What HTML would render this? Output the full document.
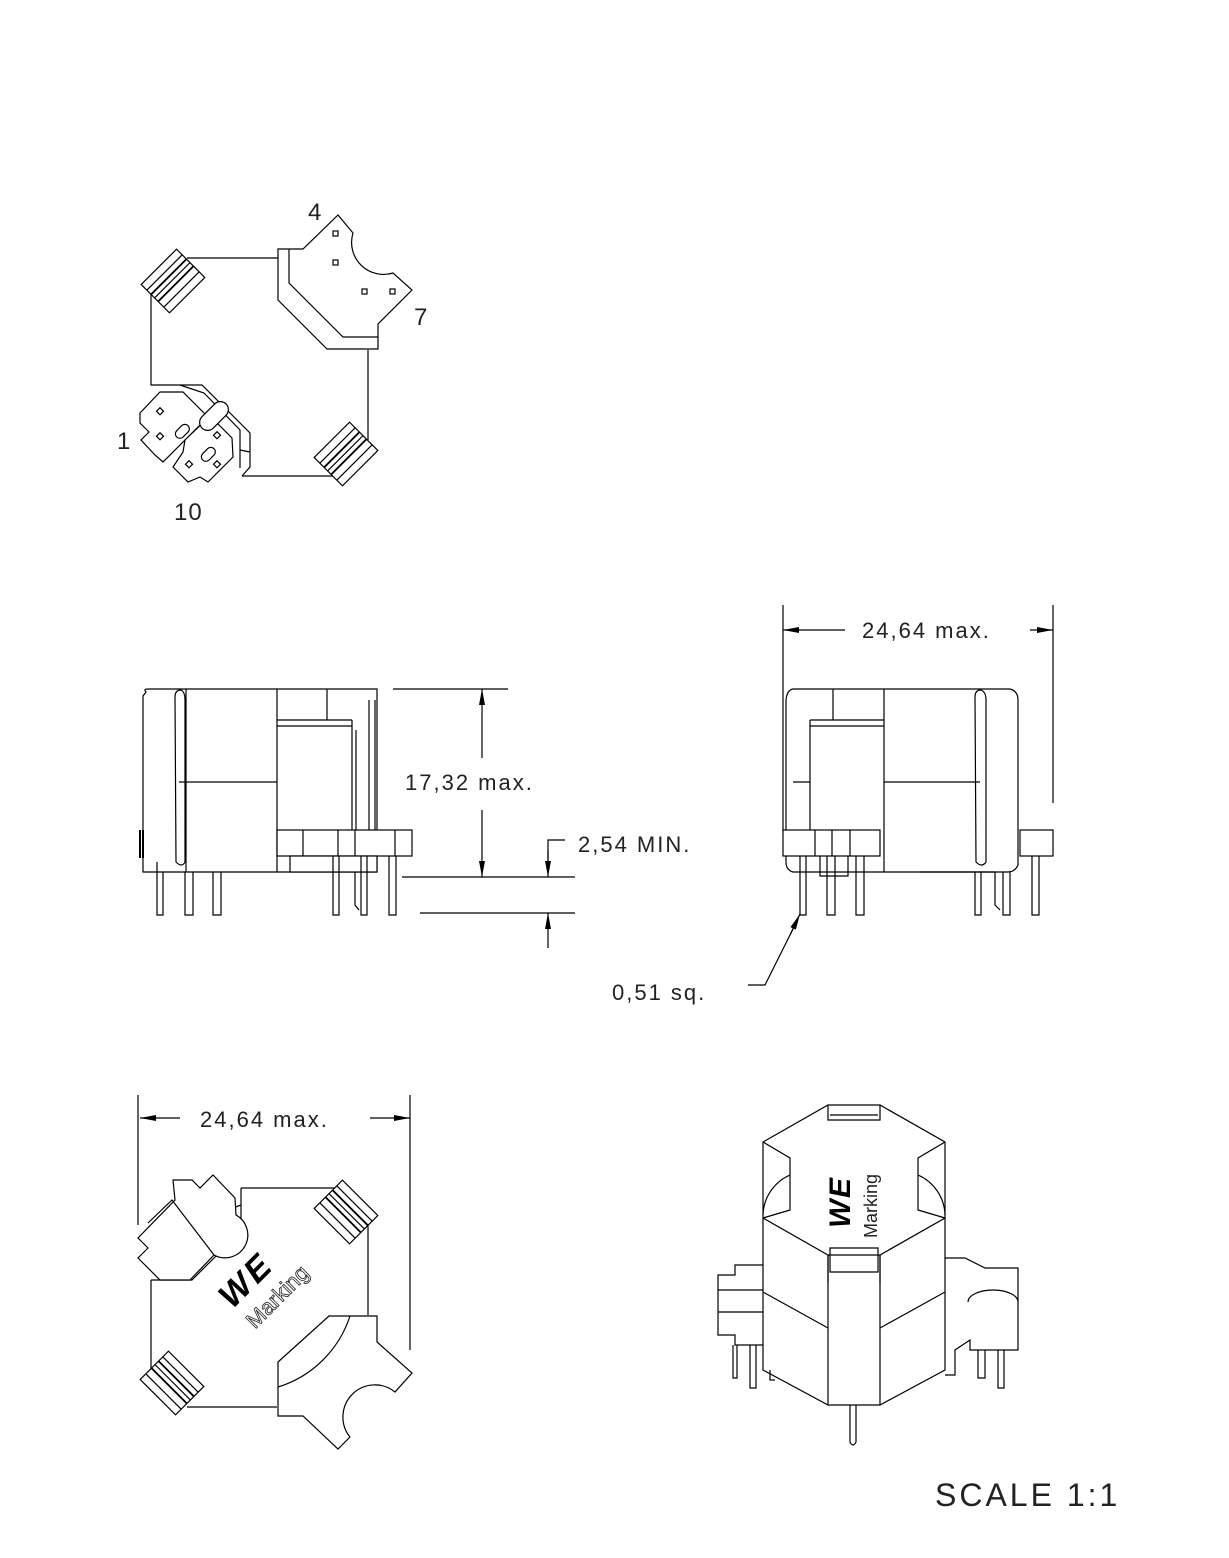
<!DOCTYPE html>
<html><head><meta charset="utf-8"><style>
html,body{margin:0;padding:0;background:#fff;}
svg{display:block;}
text{font-family:"Liberation Sans",sans-serif;fill:#222;}
</style></head><body>
<svg width="1229" height="1558" viewBox="0 0 1229 1558" xmlns="http://www.w3.org/2000/svg">
<defs>
<marker id="arl" viewBox="0 0 16 8" refX="16" refY="4" markerWidth="16" markerHeight="8" orient="auto-start-reverse" markerUnits="userSpaceOnUse"><path d="M0,1 L16,4 L0,7 z" fill="#000"/></marker>
<g id="bob">
<rect x="-25" y="-20" width="50" height="40" fill="#fff" stroke="#000" stroke-width="1.2"/>
<line x1="-25" y1="-12" x2="25" y2="-12" stroke="#000"/>
<line x1="-25" y1="-6" x2="25" y2="-6" stroke="#000" stroke-width="1.8"/>
<line x1="-25" y1="-1" x2="25" y2="-1" stroke="#000"/>
<line x1="-25" y1="4" x2="25" y2="4" stroke="#000" stroke-width="1.8"/>
<line x1="-25" y1="12" x2="25" y2="12" stroke="#000"/>
</g>
</defs>
<g fill="none" stroke="#000" stroke-width="1.2">
<!-- TOP VIEW -->
<path d="M187,258 H278 M151,294 V385 H170 M368,350 V440 M242,476 H333"/>
<path d="M278,249 H303 L338,215 L353,233 A32,32 0 0 0 393,273 L412,290 L378,324 V349 H327 L278,300 Z" fill="#fff"/>
<path d="M289,249 V283 L343,337 H378"/>
<rect x="333" y="231" width="5" height="5"/><rect x="333" y="260" width="5" height="5"/>
<rect x="362" y="289" width="5" height="5"/><rect x="390" y="289" width="5" height="5"/>
<use href="#bob" transform="translate(173,281) rotate(-45)"/>
<use href="#bob" transform="translate(346,454) rotate(-45)"/>
<path d="M170,385 L202,385 L250,433 L250,467 L242,476 M250,452 L240,450"/>
<path d="M180,385 L204,393 L240,430 V468"/>
<path d="M140,413 L160,392 L183,392 L208,417 L163,462 L155,455 L141,440 L149,432 L140,423 Z" fill="#fff"/>
<path d="M173,467 L188,482 L200,477 L208,482 L233,457 L232,438 L210,416 L185,440 L183,452 Z" fill="#fff"/>
<rect x="197" y="408" width="34" height="16" rx="8" transform="rotate(-45 214 416)" fill="#fff"/>
<rect x="174" y="427" width="16" height="9" rx="4.5" transform="rotate(-45 182 431)"/>
<rect x="200" y="450" width="16" height="9" rx="4.5" transform="rotate(-45 208 454)"/>
<rect x="157" y="409" width="5" height="5" transform="rotate(45 160 412)"/>
<rect x="157" y="434" width="5" height="5" transform="rotate(45 160 437)"/>
<rect x="214" y="433" width="5" height="5" transform="rotate(45 217 436)"/>
<rect x="186" y="462" width="5" height="5" transform="rotate(45 189 465)"/>
<rect x="214" y="462" width="5" height="5" transform="rotate(45 217 465)"/>

<!-- SIDE VIEW LEFT -->
<path d="M146,692 Q143,689 148,689 H377 V872 H143 V696 Z"/>
<path d="M186,689 V872 M277,689 V872 M179,782 H277 M277,720 H352 M277,726 H352 M352,720 V830 M356,730 V830 M369,700 V830 M375,700 V855 M327,689 V720"/>
<path d="M175,697 Q175,690 181,690 Q185,692 185,700 V862 Q182,868 176,862 Z"/>
<path d="M140,830 V858 M143,830 V858" stroke-width="2"/>
<rect x="277" y="830" width="135" height="26" fill="#fff"/>
<path d="M303,830 V856 M338,830 V856 M355,830 V856 M395,830 V856"/>
<rect x="290" y="856" width="87" height="16" fill="#fff"/>
<path d="M157,862 V915 H163 V872 M185,872 V915 H193 V872 M213,872 V915 H221 V872 M333,856 V915 H339 V856 M361,856 V915 H367 V856 M389,856 V915 H396 V856 M355,872 V905 L359,910"/>
<path d="M393,689 H508 M402,877 H575 M420,913 H575"/>
<line x1="482" y1="758" x2="482" y2="689" marker-end="url(#arl)"/>
<line x1="482" y1="810" x2="482" y2="877" marker-end="url(#arl)"/>
<path d="M565,840 H548 V860"/>
<line x1="548" y1="850" x2="548" y2="877" marker-end="url(#arl)"/>
<line x1="548" y1="948" x2="548" y2="913" marker-end="url(#arl)"/>

<!-- SIDE VIEW RIGHT -->
<path d="M783,605 V833 M1053,605 V803"/>
<line x1="845" y1="630" x2="783" y2="630" marker-end="url(#arl)"/>
<line x1="1030" y1="630" x2="1053" y2="630" marker-end="url(#arl)"/>
<path d="M793,689 H1010 Q1018,691 1018,700 V865 Q1015,872 1008,872 H793 Q786,870 786,862 V700 Q787,690 793,689 Z"/>
<path d="M884,689 V872 M833,689 V720 M810,720 H884 M810,726 H884 M810,720 V830 M793,782 H810 M884,782 H980"/>
<path d="M975,697 Q975,690 981,690 Q986,692 986,700 V862 Q982,868 976,862 Z"/>
<rect x="783" y="830" width="97" height="26" fill="#fff"/>
<rect x="1020" y="830" width="33" height="26" fill="#fff"/>
<path d="M815,830 V856 M832,830 V856 M850,830 V856 M820,856 V876 H848 V856 M920,872 H995"/>
<path d="M800,856 V915 H806 V856 M827,856 V915 H835 V856 M856,856 V915 H864 V856 M975,872 V915 H981 V872 M1003,872 V915 H1010 V872 M1032,856 V915 H1039 V856 M995,872 V905 L1000,910"/>
<path d="M748,985 H765 L795,925"/>
<line x1="790" y1="935" x2="800" y2="914" marker-end="url(#arl)"/>

<!-- BOTTOM VIEW -->
<path d="M138,1095 V1225 M410,1095 V1350"/>
<line x1="180" y1="1118" x2="140" y2="1118" marker-end="url(#arl)"/>
<line x1="370" y1="1118" x2="410" y2="1118" marker-end="url(#arl)"/>
<path d="M241,1188 H335 M368,1225 V1315 M151,1280 V1370 M187,1407 H277"/>
<path d="M151,1280 H192 L241,1231 V1188 M165,1280 A120,120 0 0 1 241,1205"/>
<path d="M173,1180 L192,1180 L200,1188 L213,1175 L235,1198 L236,1215 A12,12 0 0 1 214,1255 L190,1280 L160,1280 L138,1258 L148,1248 L138,1238 L175,1200 Z" fill="#fff"/>
<path d="M148,1223 L172,1200 L214,1255"/>
<path d="M278,1362 L329,1316 H377 V1342 L412,1373 L395,1392 A32,32 0 0 0 350,1437 L338,1449 L303,1416 H278 Z" fill="#fff"/>
<path d="M278,1387 A110,110 0 0 0 350,1316"/>
<use href="#bob" transform="translate(346,1212) rotate(45)"/>
<use href="#bob" transform="translate(172,1383) rotate(45)"/>

<!-- ISO VIEW -->
<path d="M763,1142 L828,1105 H880 L945,1142 V1218 L880,1255 H828 L763,1218 Z" fill="#fff"/>
<path d="M763,1218 V1370 L828,1405 H880 L945,1370 V1218 M763,1292 L828,1328 M880,1328 L945,1292 M828,1255 V1405 M880,1255 V1405"/>
<path d="M828,1105 V1120 H880 V1105 M830,1115 H878"/>
<path d="M828,1255 V1283 M880,1255 V1283 M830,1248 H878 V1272 H830 Z"/>
<path d="M763,1142 L790,1158 V1210 L763,1218 M945,1142 L918,1158 V1210 L945,1218 M790,1175 A45,45 0 0 0 763,1215 M918,1175 A45,45 0 0 1 945,1215"/>
<path d="M763,1265 H735 V1275 H718 V1335 H735 V1345 H763 M718,1290 H763 M718,1312 H763"/>
<path d="M733,1345 V1378 H737 V1345 M750,1345 V1388 H756 V1345 M770,1370 V1380 H775"/>
<path d="M945,1258 H965 L985,1268 H1018 V1350 H970 V1340 L955,1350 V1375 H945 M968,1302 A25,12 0 0 1 1018,1302"/>
<path d="M978,1350 V1378 H985 V1350 M998,1350 V1388 H1004 V1350"/>
<path d="M850,1405 V1442 Q853,1448 856,1442 V1405"/>
</g>
<g transform="translate(255,1290) rotate(-45)">
<text x="-30" y="-2" font-size="34" font-weight="bold" font-style="italic" style="fill:#000" textLength="58">WE</text>
<text x="-28" y="28" font-size="22" style="fill:none;stroke:#222;stroke-width:0.8">Marking</text>
</g>
<g transform="translate(850,1200) rotate(-90)">
<text x="-28" y="0" font-size="30" font-weight="bold" font-style="italic" style="fill:#000" textLength="50">WE</text>
<text x="-38" y="27" font-size="18">Marking</text>
</g>
<g font-size="24" style="letter-spacing:1px">
<text x="308" y="220">4</text>
<text x="414" y="325">7</text>
<text x="117" y="449">1</text>
<text x="174" y="520">10</text>
</g>
<g font-size="22" style="letter-spacing:2px">
<text x="405" y="790">17,32 max.</text>
<text x="578" y="852">2,54 MIN.</text>
<text x="862" y="638">24,64 max.</text>
<text x="612" y="1000">0,51 sq.</text>
<text x="200" y="1127">24,64 max.</text>
</g>
<text x="935" y="1506" font-size="32" style="letter-spacing:3px">SCALE 1:1</text>
</svg>
</body></html>
